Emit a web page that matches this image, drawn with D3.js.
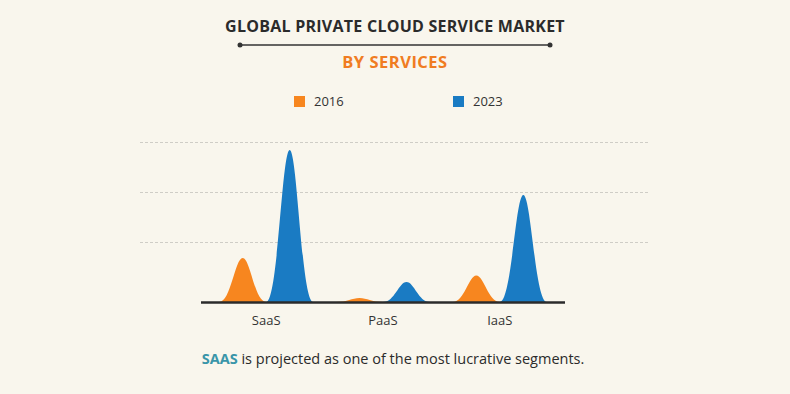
<!DOCTYPE html>
<html>
<head>
<meta charset="utf-8">
<script src="https://cdn.jsdelivr.net/npm/d3@7"></script>
<style>
  html, body { margin: 0; padding: 0; background: #f9f6ed; }
  text { font-family: "Open Sans", sans-serif; }
</style>
</head>
<body>
<div id="chart"></div>
<script>
// chart data
const categories = ["SaaS", "PaaS", "IaaS"];
const seriesNames = ["2016", "2023"];
const values2016 = [8.8, 0.8, 5.3];
const values2023 = [30.4, 4.0, 21.4];
const gridValues = [12, 22, 32];
const seriesColors = ["#f7861f", "#1a7bc3"];

const width = 790;
const height = 394;

const svg = d3.select("#chart")
    .append("svg")
    .attr("width", width)
    .attr("height", height);

svg.append("rect")
    .attr("width", width)
    .attr("height", height)
    .attr("fill", "#f9f6ed");

// Title
svg.append("text")
    .attr("x", 395)
    .attr("y", 32)
    .attr("text-anchor", "middle")
    .attr("font-size", "16px")
    .attr("font-weight", "bold")
    .attr("letter-spacing", "0.25px")
    .attr("fill", "#2b2b2b")
    .text("GLOBAL PRIVATE CLOUD SERVICE MARKET");

svg.append("line")
    .attr("x1", 240).attr("x2", 550)
    .attr("y1", 45).attr("y2", 45)
    .attr("stroke", "#333")
    .attr("stroke-width", 1.3);

svg.selectAll(".dot")
    .data([240, 550])
    .enter()
    .append("circle")
    .attr("cx", d => d)
    .attr("cy", 45)
    .attr("r", 2.5)
    .attr("fill", "#333");

svg.append("text")
    .attr("x", 395)
    .attr("y", 68)
    .attr("text-anchor", "middle")
    .attr("font-size", "16.5px")
    .attr("font-weight", "bold")
    .attr("letter-spacing", "0.5px")
    .attr("fill", "#f07c22")
    .text("BY SERVICES");

// Legend
const legendX = [294, 453];
const legend = svg.selectAll(".legend")
    .data(seriesNames)
    .enter()
    .append("g")
    .attr("transform", (d, i) => `translate(${legendX[i]},96)`);

legend.append("rect")
    .attr("width", 11)
    .attr("height", 11)
    .attr("fill", (d, i) => seriesColors[i]);

legend.append("text")
    .attr("x", 20)
    .attr("y", 10)
    .attr("font-size", "13px")
    .attr("fill", "#333")
    .text(d => d);

// Scales
const baseY = 302;
const y = d3.scaleLinear()
    .domain([0, 32])
    .range([baseY, baseY - 160]);

const x0 = d3.scaleBand()
    .domain(categories)
    .range([201, 565])
    .paddingInner(0)
    .paddingOuter(0.058);

const x1 = d3.scaleBand()
    .domain(seriesNames)
    .range([0, x0.bandwidth()])
    .paddingInner(0)
    .paddingOuter(0.2425);

// Gridlines
svg.selectAll(".grid")
    .data(gridValues)
    .enter()
    .append("line")
    .attr("x1", 140)
    .attr("x2", 650)
    .attr("y1", d => y(d) + 0.5)
    .attr("y2", d => y(d) + 0.5)
    .attr("stroke", "#cfcdc6")
    .attr("stroke-width", 1)
    .attr("stroke-dasharray", "3,2");

// Peak shapes
const peaks = [];
categories.forEach((c, i) => {
    peaks.push({ cat: c, series: "2016", value: values2016[i], color: seriesColors[0] });
    peaks.push({ cat: c, series: "2023", value: values2023[i], color: seriesColors[1] });
});

function peakPath(d) {
    const left = x0(d.cat) + x1(d.series);
    const w = x1.bandwidth();
    const hw = w / 2;
    const mid = left + hw;
    const top = y(d.value);
    const right = left + w;
    return `M${left},${baseY}` +
        `C${left + hw * 0.5},${baseY} ${mid - hw * 0.33},${top} ${mid},${top}` +
        `C${mid + hw * 0.33},${top} ${right - hw * 0.5},${baseY} ${right},${baseY}Z`;
}

svg.selectAll(".peak")
    .data(peaks)
    .enter()
    .append("path")
    .attr("d", peakPath)
    .attr("fill", d => d.color);

// Axis line
svg.append("line")
    .attr("x1", 201)
    .attr("x2", 565)
    .attr("y1", baseY + 0.5)
    .attr("y2", baseY + 0.5)
    .attr("stroke", "#2b2b2b")
    .attr("stroke-width", 2.5);

// Category labels
svg.selectAll(".cat")
    .data(categories)
    .enter()
    .append("text")
    .attr("x", d => x0(d) + x0.bandwidth() / 2)
    .attr("y", 325)
    .attr("text-anchor", "middle")
    .attr("font-size", "13px")
    .attr("fill", "#333")
    .text(d => d);

// Footer note
const note = svg.append("text")
    .attr("x", 393)
    .attr("y", 364)
    .attr("text-anchor", "middle")
    .attr("font-size", "14.5px")
    .attr("fill", "#2b2b2b");

note.append("tspan")
    .attr("font-weight", "bold")
    .attr("fill", "#3a95a9")
    .text("SAAS");

note.append("tspan")
    .text(" is projected as one of the most lucrative segments.");
</script>
</body>
</html>
